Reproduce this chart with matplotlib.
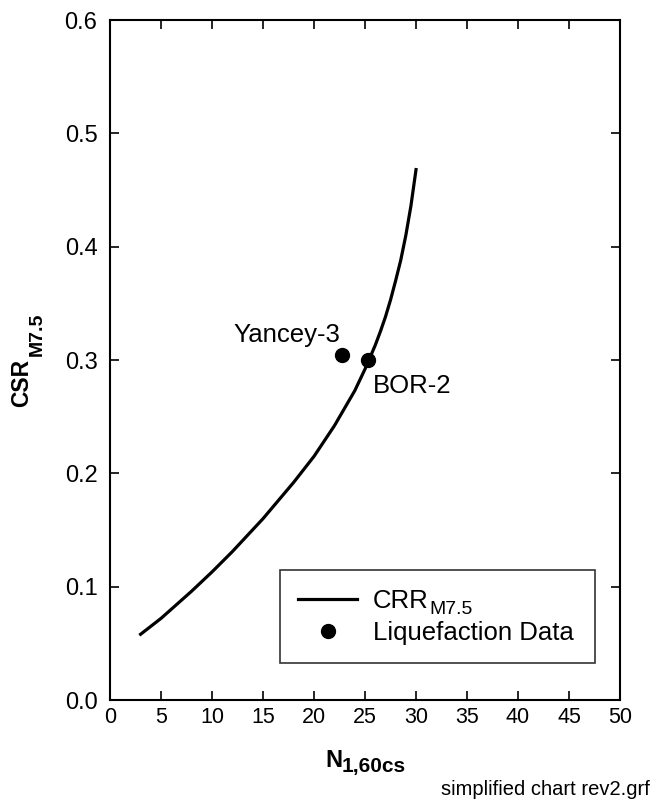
import matplotlib
matplotlib.use("Agg")
import matplotlib.pyplot as plt

plt.rcParams["font.family"] = ["Liberation Sans", "DejaVu Sans"]

# curva CRR
n_curva = [3, 5, 8, 10, 12, 15, 18, 20, 22, 24, 25, 26, 26.5, 27, 27.5, 28, 28.5, 29, 29.5, 30]
crr_curva = [0.058, 0.072, 0.096, 0.113, 0.131, 0.160, 0.192, 0.215, 0.242, 0.273, 0.292,
             0.313, 0.325, 0.338, 0.353, 0.370, 0.388, 0.410, 0.436, 0.468]

# pontos de liquefacao
nomes = ["Yancey-3", "BOR-2"]
n_dados = [22.7, 25.3]
csr_dados = [0.304, 0.300]

W, H = 652, 810

def px(x, y):
    # pixel (a partir do topo) -> fracao da figura
    return x / W, (H - y) / H

fig = plt.figure(figsize=(6.52, 8.10), dpi=100)
ax = fig.add_axes([0.1687, 0.1358, 0.7823, 0.8395])

ax.plot(n_curva, crr_curva, color="black", linewidth=2.3, label="CRR")
ax.plot(n_dados, csr_dados, "o", color="black", markersize=10, linestyle="none",
        label="Liquefaction Data")

ax.text(22.6, 0.316, nomes[0], ha="right", va="baseline", fontsize=18.5)
ax.text(25.75, 0.271, nomes[1], ha="left", va="baseline", fontsize=18.5)

ax.set_xlim(0, 50)
ax.set_ylim(0, 0.6)
ax.set_xticks(range(0, 51, 5))
ax.set_yticks([0.0, 0.1, 0.2, 0.3, 0.4, 0.5, 0.6])
ax.set_yticklabels(["0.0", "0.1", "0.2", "0.3", "0.4", "0.5", "0.6"])
ax.tick_params(direction="in", top=True, right=True, length=6.5, width=1.2)
ax.tick_params(axis="x", labelsize=15.5, pad=5)
ax.tick_params(axis="y", labelsize=17, pad=9)
for s in ax.spines.values():
    s.set_linewidth(1.5)

# rotulos dos eixos com subscrito
fig.text(*px(325, 767), "N", fontsize=17, fontweight="bold", ha="left", va="baseline")
fig.text(*px(342, 772), "1,60cs", fontsize=15, fontweight="bold", ha="left", va="baseline")
fig.text(*px(28, 407), "CSR", fontsize=16.5, fontweight="bold", rotation=90,
         rotation_mode="anchor", ha="left", va="baseline")
fig.text(*px(42, 356), "M7.5", fontsize=14, fontweight="bold", rotation=90,
         rotation_mode="anchor", ha="left", va="baseline")

leg = ax.legend(loc="center", bbox_to_anchor=(0.333, 0.0515, 0.618, 0.1415), mode="expand",
                borderaxespad=0, fontsize=18.5, frameon=True, fancybox=False,
                edgecolor="black", handlelength=2.3, borderpad=0.72, labelspacing=0.32,
                handletextpad=0.6)
leg.get_frame().set_linewidth(1.2)
ax.annotate("M7.5", xy=(1, 0), xycoords=leg.get_texts()[0], xytext=(0.5, -1),
            textcoords="offset points", ha="left", va="baseline", fontsize=14, zorder=6)

fig.text(*px(650, 795), "simplified chart rev2.grf", ha="right", va="baseline", fontsize=14.5)

fig.canvas.draw()
fig.savefig("out.png", dpi=100)
